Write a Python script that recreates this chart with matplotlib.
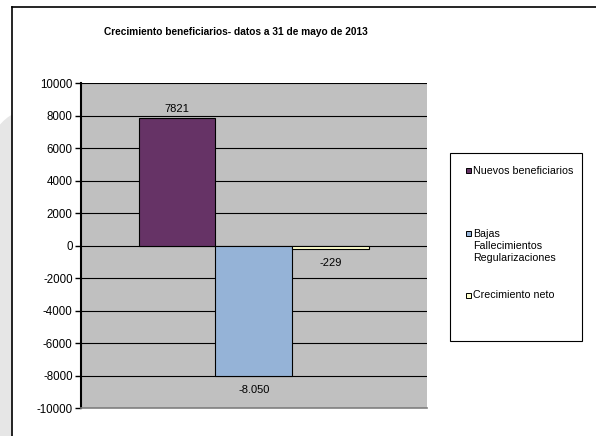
import matplotlib.pyplot as plt
from matplotlib.patches import Rectangle, Polygon
from matplotlib.lines import Line2D

plt.rcParams['font.family'] = ['Liberation Sans', 'DejaVu Sans']
plt.rcParams['axes.unicode_minus'] = False

series = ['Nuevos beneficiarios', 'Bajas\nFallecimientos\nRegularizaciones', 'Crecimiento neto']
values = [7821, -8050, -229]
value_labels = ['7821', '-8.050', '-229']
colors = ['#663366', '#95b3d7', '#ffffcc']

fig = plt.figure(figsize=(5.96, 4.36), dpi=100)

# sombra gris a la izquierda, fuera del marco
fig.add_artist(Polygon([(0.0, 0.0), (0.0, 0.712), (0.007, 0.722), (0.014, 0.730),
                        (0.02, 0.735), (0.02, 0.0)],
                       closed=True, transform=fig.transFigure, color='#e6e6e6', zorder=0))
fig.add_artist(Line2D([0.02, 1.0], [0.984, 0.984], transform=fig.transFigure, color='black', lw=1.2))
fig.add_artist(Line2D([0.02, 0.02], [0.0, 0.984], transform=fig.transFigure, color='black', lw=1.2))

ax = fig.add_axes([0.136, 0.0642, 0.580, 0.7454])
ax.set_facecolor('#c0c0c0')

x = [-1, 0, 1]
for xi, v, c, s in zip(x, values, colors, series):
    ax.bar(xi, v, width=1.0, color=c, edgecolor='black', linewidth=0.8, label=s, zorder=3)

for xi, v, t in zip(x, values, value_labels):
    if v >= 0:
        ax.text(xi, v + 600, t, ha='center', va='center', fontsize=8)
    else:
        ax.text(xi, v - 850, t, ha='center', va='center', fontsize=8)

ax.set_xlim(-2.25, 2.25)
ax.set_ylim(-10000, 10000)
ax.set_yticks(range(-10000, 10001, 2000))
ax.set_xticks([])
ax.yaxis.grid(True, color='black', lw=0.8)
ax.set_axisbelow(True)
ax.tick_params(axis='y', labelsize=8.3, length=4, width=1, color='black', pad=2)
for sp in ['top', 'right']:
    ax.spines[sp].set_visible(False)
ax.spines['left'].set_linewidth(1.5)
ax.spines['bottom'].set_color('#808080')
ax.spines['bottom'].set_linewidth(1.2)

fig.text(0.396, 0.927, 'Crecimiento beneficiarios- datos a 31 de mayo de 2013',
         ha='center', va='center', fontsize=7.3, fontweight='bold')

# leyenda dibujada a mano
fig.add_artist(Rectangle((0.755, 0.218), 0.222, 0.431, transform=fig.transFigure,
                         fill=False, edgecolor='black', lw=0.8))
leg_y = [173, 235, 297]
for s, c, yp in zip(series, colors, leg_y):
    fy = 1 - yp / 436
    fig.add_artist(Rectangle((466 / 596, fy - 0.5 / 436), 5 / 596, 5 / 436,
                             transform=fig.transFigure, facecolor=c, edgecolor='black', lw=0.7))
    fig.text(473 / 596, fy + 6.5 / 436, s, ha='left', va='top', fontsize=7.7, linespacing=1.3)

fig.savefig('out.png', dpi=100)
